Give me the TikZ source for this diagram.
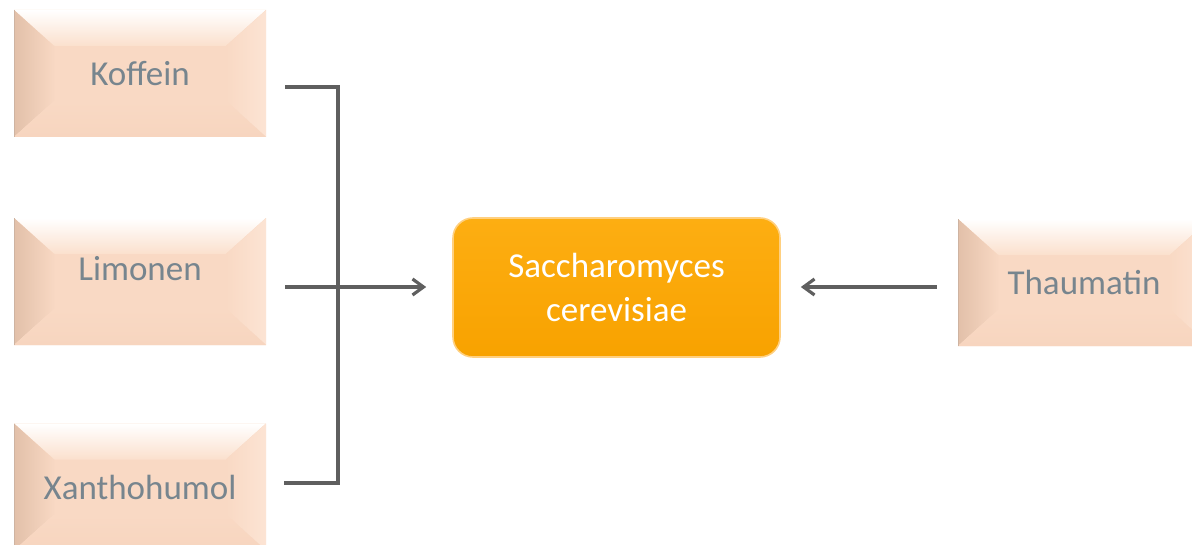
\documentclass[tikz,border=0pt]{standalone}
\usepackage{fontspec}
\setmainfont{Carlito}
\usetikzlibrary{arrows.meta,calc}
\definecolor{peachmid}{HTML}{F9D9C4}
\definecolor{peachtop}{HTML}{FBE0CD}
\definecolor{peachleftA}{HTML}{E2C0A9}
\definecolor{peachleftB}{HTML}{F8D8C3}
\definecolor{peachright}{HTML}{FCE4D4}
\definecolor{peachbot}{HTML}{F7D5BF}
\definecolor{txtgray}{HTML}{77858E}
\definecolor{linegray}{HTML}{5F5F5F}
\definecolor{orangeA}{HTML}{FDAE12}
\definecolor{orangeB}{HTML}{F8A200}
\definecolor{orangeedge}{HTML}{FFD080}
\tikzset{
  bev/.style={rectangle, inner sep=0pt, minimum width=126pt, minimum height=63.5pt,
    fill=peachmid, text=txtgray, font=\fontsize{17.5}{21}\selectfont,
    path picture={
      \path (path picture bounding box.north west) coordinate (pA)
            (path picture bounding box.north east) coordinate (pB)
            (path picture bounding box.south east) coordinate (pC)
            (path picture bounding box.south west) coordinate (pD);
      \fill[top color=white, bottom color=peachtop]
        (pA) -- (pB) -- ([shift={(-20pt,-18pt)}]pB) -- ([shift={(20pt,-18pt)}]pA) -- cycle;
      \fill[left color=peachleftA, right color=peachleftB]
        (pA) -- ([shift={(20pt,-18pt)}]pA) -- ([shift={(20pt,18pt)}]pD) -- (pD) -- cycle;
      \fill[left color=peachmid, right color=peachright]
        (pB) -- ([shift={(-20pt,-18pt)}]pB) -- ([shift={(-20pt,18pt)}]pC) -- (pC) -- cycle;
      \fill[top color=peachmid, bottom color=peachbot]
        (pD) -- ([shift={(20pt,18pt)}]pD) -- ([shift={(-20pt,18pt)}]pC) -- (pC) -- cycle;
      \draw[peachleftA!80!gray, line width=1pt] (pA) -- (pD);
    }},
  core/.style={rectangle, rounded corners=10pt, inner sep=0pt, minimum width=163.5pt,
    minimum height=69.5pt, top color=orangeA, bottom color=orangeB, draw=orangeedge,
    line width=0.8pt, text=white, align=center, font=\fontsize{17.5}{22}\selectfont},
  conn/.style={draw=linegray, line width=1.6pt},
  tip/.style={-{Straight Barb[length=5.5pt,width=8pt]}}
}
\begin{document}
\begin{tikzpicture}[x=0.5pt,y=-0.5pt]
\useasboundingbox (0,0) rectangle (1192,545);
\node[bev] (K) at (140,73.5) {Koffein};
\node[bev] (L) at (140,281.5) {\raisebox{13pt}{Limonen}};
\node[bev] (X) at (140,487) {Xanthohumol};
\node[bev] (T) at (1084,282.5) {Thaumatin};
\node[core] (S) at (616.5,287.5) {Saccharomyces\\cerevisiae};
\coordinate (jt) at (338,87);
\coordinate (jb) at (338,483);
\coordinate (ja) at (338,287);
\draw[conn, shorten <=9.5pt, shorten >=9pt] (K.east |- jt) -- (jt) -- (jb) -- (X.east |- jb);
\draw[conn, tip, shorten <=9.5pt, shorten >=13pt] (L.east |- ja) -- (S.west |- ja);
\draw[conn, tip, shorten <=10.5pt, shorten >=10pt] (T.west |- ja) -- (S.east |- ja);
\end{tikzpicture}
\end{document}
